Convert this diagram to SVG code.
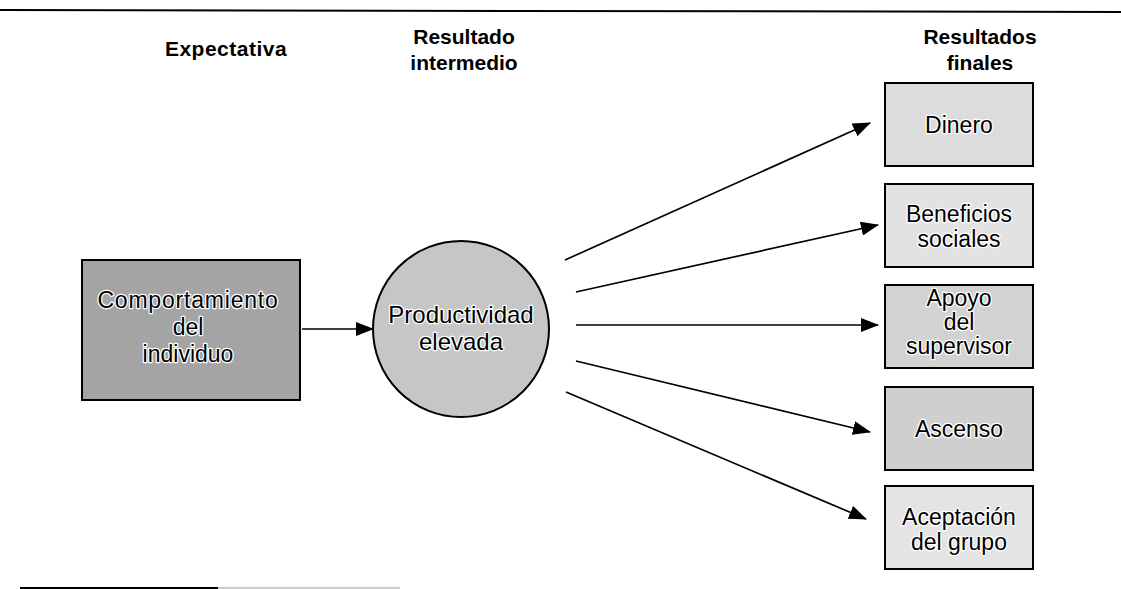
<svg xmlns="http://www.w3.org/2000/svg" width="1121" height="589" viewBox="0 0 1121 589">
<style>
.hdr{font-family:"Liberation Sans",Arial,sans-serif;font-weight:bold;font-size:21px;fill:#000;text-anchor:middle}
.lbl{font-family:"Liberation Sans",Arial,sans-serif;font-size:23px;fill:#000;text-anchor:middle;stroke:#fff;stroke-width:2.5px;paint-order:stroke;stroke-linejoin:round}
.big{font-size:24px}
.box{stroke:#000;stroke-width:2}
.conn{stroke:#000;stroke-width:1.7;fill:none;marker-end:url(#ah)}
</style>
<defs>
<marker id="ah" markerWidth="18" markerHeight="14" refX="17" refY="7" orient="auto" markerUnits="userSpaceOnUse">
<path d="M0,0 L18,7 L0,14 Z" fill="#000"/>
</marker>
</defs>
<rect width="1121" height="589" fill="#fff"/>
<line x1="0" y1="10" x2="1121" y2="12" stroke="#000" stroke-width="2"/>
<line x1="20" y1="588" x2="218" y2="588" stroke="#000" stroke-width="2"/>
<line x1="218" y1="588" x2="400" y2="588" stroke="#bbb" stroke-width="1.5"/>
<g id="headers">
<text class="hdr" x="226" y="56" letter-spacing="0.5">Expectativa</text>
<text class="hdr" x="464" y="44">Resultado</text>
<text class="hdr" x="464" y="70">intermedio</text>
<text class="hdr" x="980" y="44">Resultados</text>
<text class="hdr" x="980" y="70">finales</text>
</g>
<g id="connectors">
<line class="conn" x1="302" y1="329" x2="373" y2="329"/>
<line class="conn" x1="565" y1="260" x2="870" y2="123"/>
<line class="conn" x1="576" y1="292" x2="878" y2="225"/>
<line class="conn" x1="576" y1="325" x2="878" y2="325"/>
<line class="conn" x1="576" y1="361" x2="870" y2="432"/>
<line class="conn" x1="566" y1="392" x2="866" y2="519"/>
</g>
<g id="comportamiento">
<rect class="box" x="82" y="260" width="218" height="140" fill="#a4a4a4"/>
<text class="lbl" x="188" y="308" letter-spacing="0.8">Comportamiento</text>
<text class="lbl" x="188" y="335">del</text>
<text class="lbl" x="188" y="362">individuo</text>
</g>
<g id="productividad">
<circle class="box" cx="461" cy="329" r="88" fill="#c6c6c6"/>
<text class="lbl big" x="461" y="323">Productividad</text>
<text class="lbl big" x="461" y="350">elevada</text>
</g>
<g id="dinero">
<rect class="box" x="885" y="83" width="148" height="83" fill="#dcdcdc"/>
<text class="lbl" x="959" y="133">Dinero</text>
</g>
<g id="beneficios">
<rect class="box" x="885" y="184" width="148" height="83" fill="#e2e2e2"/>
<text class="lbl" x="959" y="222">Beneficios</text>
<text class="lbl" x="959" y="247">sociales</text>
</g>
<g id="apoyo">
<rect class="box" x="885" y="285" width="148" height="83" fill="#d2d2d2"/>
<text class="lbl" x="959" y="306">Apoyo</text>
<text class="lbl" x="959" y="330">del</text>
<text class="lbl" x="959" y="354">supervisor</text>
</g>
<g id="ascenso">
<rect class="box" x="885" y="387" width="148" height="83" fill="#cfcfcf"/>
<text class="lbl" x="959" y="437">Ascenso</text>
</g>
<g id="aceptacion">
<rect class="box" x="885" y="486" width="148" height="83" fill="#e4e4e4"/>
<text class="lbl" x="959" y="525">Aceptación</text>
<text class="lbl" x="959" y="550">del grupo</text>
</g>
</svg>
